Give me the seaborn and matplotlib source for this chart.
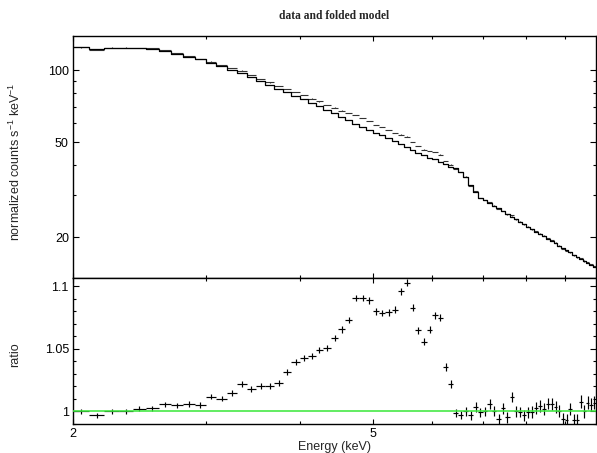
import matplotlib
matplotlib.use("Agg")
import numpy as np
import pandas as pd
import seaborn as sns
import matplotlib.pyplot as plt
from matplotlib.ticker import FixedLocator, FixedFormatter, NullFormatter

# ---------------- data ----------------
bin_edges = [2.0, 2.1, 2.2, 2.3, 2.4, 2.5, 2.6, 2.7, 2.8, 2.9,
             3.0, 3.1, 3.2, 3.3, 3.4, 3.5, 3.6, 3.7, 3.8, 3.9,
             4.0, 4.1, 4.2, 4.3, 4.4, 4.5, 4.6, 4.7, 4.8, 4.9,
             5.0, 5.1, 5.2, 5.3, 5.4, 5.5, 5.6, 5.7, 5.8, 5.9,
             6.0, 6.1, 6.2, 6.3, 6.4, 6.5, 6.6, 6.7, 6.8, 6.9,
             7.0, 7.1, 7.2, 7.3, 7.4, 7.5, 7.6, 7.7, 7.8, 7.9,
             8.0, 8.1, 8.2, 8.3, 8.4, 8.5, 8.6, 8.7, 8.8, 8.9,
             9.0, 9.1, 9.2, 9.3, 9.4, 9.5, 9.6, 9.7, 9.8, 9.9]

model = [124.5, 122.4, 124.4, 124.4, 123.8, 123.0, 120.4, 117.3, 113.7, 110.9,
         107.3, 103.9, 100.6, 97.4, 93.7, 90.2, 87.1, 83.8, 80.9, 78.0,
         75.4, 72.8, 70.5, 68.0, 65.9, 63.6, 61.6, 59.6, 57.9, 56.3,
         54.7, 53.6, 52.0, 50.5, 49.0, 47.8, 46.3, 45.2, 44.1, 43.1,
         42.3, 41.2, 40.3, 39.4, 38.8, 37.6, 35.8, 33.0, 31.0, 29.2,
         28.6, 27.8, 27.1, 26.4, 25.7, 25.1, 24.4, 23.8, 23.2, 22.7,
         22.1, 21.6, 21.1, 20.6, 20.2, 19.7, 19.3, 18.9, 18.4, 18.0,
         17.7, 17.3, 16.9, 16.6, 16.2, 15.9, 15.6, 15.3, 15.0]

ratio = [1.0000, 0.9968, 1.0000, 1.0000, 1.0020, 1.0024, 1.0056, 1.0048, 1.0059, 1.0051,
         1.0119, 1.0103, 1.0146, 1.0217, 1.0178, 1.0206, 1.0204, 1.0225, 1.0317, 1.0397,
         1.0429, 1.0444, 1.0490, 1.0508, 1.0587, 1.0656, 1.0728, 1.0905, 1.0905, 1.0887,
         1.0799, 1.0786, 1.0791, 1.0813, 1.0958, 1.1027, 1.0829, 1.0648, 1.0556, 1.0654,
         1.0767, 1.0749, 1.0352, 1.0217, 0.9987, 0.9974, 1.0000, 0.9968, 1.0035, 0.9992,
         1.0000, 1.0061, 1.0006, 0.9942, 1.0024, 0.9952, 1.0114, 1.0000, 0.9995, 0.9968,
         0.9995, 0.9995, 1.0027, 1.0045, 1.0021, 1.0063, 1.0059, 1.0035, 1.0006, 0.9940,
         0.9934, 1.0021, 0.9929, 0.9929, 1.0079, 1.0000, 1.0071, 1.0053, 1.0070]

ratio_err = [0.0019, 0.0019, 0.0019, 0.0020, 0.0020, 0.0020, 0.0020, 0.0021, 0.0021, 0.0021,
             0.0022, 0.0022, 0.0022, 0.0023, 0.0023, 0.0023, 0.0023, 0.0024, 0.0024, 0.0024,
             0.0024, 0.0025, 0.0025, 0.0025, 0.0025, 0.0026, 0.0026, 0.0026, 0.0026, 0.0027,
             0.0027, 0.0027, 0.0027, 0.0028, 0.0028, 0.0028, 0.0028, 0.0029, 0.0029, 0.0029,
             0.0030, 0.0030, 0.0031, 0.0031, 0.0032, 0.0032, 0.0034, 0.0036, 0.0037, 0.0038,
             0.0039, 0.0040, 0.0040, 0.0041, 0.0041, 0.0042, 0.0042, 0.0043, 0.0043, 0.0044,
             0.0044, 0.0045, 0.0045, 0.0046, 0.0046, 0.0047, 0.0047, 0.0048, 0.0048, 0.0049,
             0.0049, 0.0050, 0.0050, 0.0051, 0.0051, 0.0052, 0.0052, 0.0053, 0.0053]

x_major = [2, 5]
x_major_labels = ["2", "5"]
x_minor = [3, 4, 6, 7, 8, 9]
y1_major = [20, 50, 100]
y1_major_labels = ["20", "50", "100"]
y1_minor = [30, 40, 60, 70, 80, 90]
y2_major = [1.0, 1.05, 1.1]
y2_major_labels = ["1", "1.05", "1.1"]
y2_minor = [0.99, 1.01, 1.02, 1.03, 1.04, 1.06, 1.07, 1.08, 1.09]

# ---------------- derived tables ----------------
edges = np.array(bin_edges)
lo, hi = edges[:-1], edges[1:]
centers = 0.5 * (lo + hi)
halfw = 0.5 * (hi - lo)
df = pd.DataFrame({"E": centers, "model": model, "ratio": ratio, "rerr": ratio_err})
df["data"] = df["model"] * df["ratio"]
df["derr"] = df["model"] * df["rerr"]
step_df = pd.DataFrame({"E": edges, "model": list(model) + [model[-1]]})

# ---------------- style ----------------
sns.set_theme(style="ticks")
plt.rcParams["font.family"] = ["Liberation Sans", "DejaVu Sans"]
plt.rcParams["mathtext.fontset"] = "custom"
plt.rcParams["mathtext.rm"] = "Liberation Sans"
plt.rcParams["mathtext.it"] = "Liberation Sans:italic"
plt.rcParams["axes.linewidth"] = 1.0
plt.rcParams["axes.edgecolor"] = "black"

W, H = 597, 453
fig = plt.figure(figsize=(W / 100, H / 100), dpi=100, facecolor="white")
L, R = 73, 596
ax1 = fig.add_axes([L / W, 1 - 278 / H, (R - L) / W, (278 - 36) / H])
ax2 = fig.add_axes([L / W, 1 - 424 / H, (R - L) / W, (424 - 278) / H])

for ax in (ax1, ax2):
    ax.set_xscale("log")
ax1.set_yscale("log")

# top panel: model step line + data crosses
sns.lineplot(data=step_df, x="E", y="model", drawstyle="steps-post", estimator=None,
             sort=False, color="black", lw=0.9, ax=ax1, zorder=3)
ax1.errorbar(df["E"], df["data"], xerr=halfw, yerr=df["derr"], fmt="none",
             ecolor="#333333", elinewidth=0.8, capsize=0, zorder=2)

# bottom panel: ratio crosses + unity line
ax2.errorbar(df["E"], df["ratio"], xerr=halfw, yerr=df["rerr"], fmt="none",
             ecolor="black", elinewidth=0.85, capsize=0, zorder=2)
ax2.axhline(1.0, color="#3ee83e", lw=1.15, zorder=4)

for ax in (ax1, ax2):
    ax.set_xlim(2.0, 9.9)
ax1.set_ylim(13.5, 139)
ax2.set_ylim(0.990, 1.1065)

for ax in (ax1, ax2):
    ax.xaxis.set_major_locator(FixedLocator(x_major))
    ax.xaxis.set_minor_locator(FixedLocator(x_minor))
    ax.xaxis.set_minor_formatter(NullFormatter())
    ax.tick_params(axis="both", which="both", direction="in", top=True, right=True,
                   color="black", width=0.8, labelsize=9, labelcolor="black")
    ax.tick_params(axis="x", which="major", length=3.5, pad=3)
    ax.tick_params(axis="x", which="minor", length=2.2)
    ax.tick_params(axis="y", which="major", length=4, pad=3)
    ax.tick_params(axis="y", which="minor", length=2.2)
    ax.set_xlabel("")
    ax.set_ylabel("")
    for s in ax.spines.values():
        s.set_color("black")
        s.set_linewidth(1.0)

ax1.xaxis.set_major_formatter(NullFormatter())
ax1.tick_params(axis="x", labelbottom=False)
ax2.xaxis.set_major_formatter(FixedFormatter(x_major_labels))

ax1.yaxis.set_major_locator(FixedLocator(y1_major))
ax1.yaxis.set_major_formatter(FixedFormatter(y1_major_labels))
ax1.yaxis.set_minor_locator(FixedLocator(y1_minor))
ax1.yaxis.set_minor_formatter(NullFormatter())

ax2.yaxis.set_major_locator(FixedLocator(y2_major))
ax2.yaxis.set_major_formatter(FixedFormatter(y2_major_labels))
ax2.yaxis.set_minor_locator(FixedLocator(y2_minor))
ax2.yaxis.set_minor_formatter(NullFormatter())

# texts
fig.text((L + R) / 2 / W, 1 - 16 / H, "data and folded model", ha="center", va="center",
         family=["Liberation Serif", "DejaVu Serif"], weight="bold", size=8.3)
fig.text(15 / W, 1 - 162 / H, "normalized counts s$^{-1}$ keV$^{-1}$", rotation=90,
         ha="center", va="center", size=9)
fig.text(15 / W, 1 - 355 / H, "ratio", rotation=90, ha="center", va="center", size=9)
fig.text((L + R) / 2 / W, 1 - 447 / H, "Energy (keV)", ha="center", va="center", size=9)

fig.savefig("out.png", dpi=100, facecolor="white")
